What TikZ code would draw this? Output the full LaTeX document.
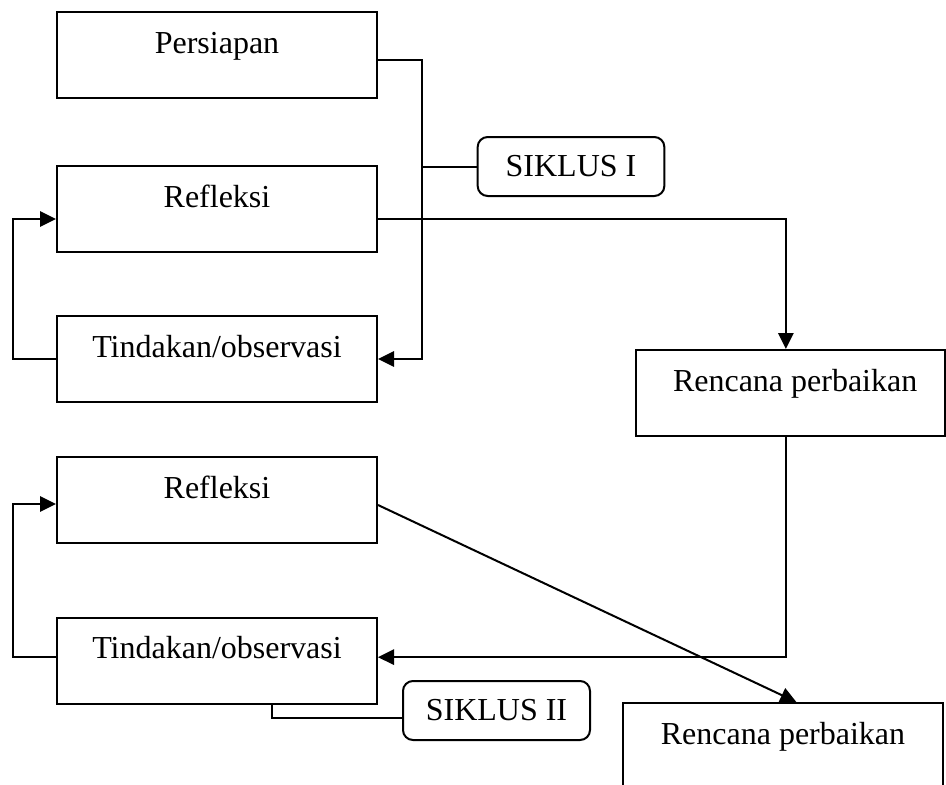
\documentclass[tikz,border=0pt]{standalone}
\usepackage{fontspec}
\setmainfont{Liberation Serif}
\usetikzlibrary{arrows.meta}

\tikzset{
  kotak/.style={draw, line width=1.5pt, minimum width=240pt, inner xsep=0pt, inner ysep=0pt,
    text height=30.75pt, text depth=33.75pt, font=\fontsize{24}{28}\selectfont},
  siklus/.style={draw, line width=1.5pt, rounded corners=7.5pt, minimum width=140pt,
    minimum height=44.25pt, inner sep=0pt, font=\fontsize{24}{28}\selectfont},
  garis/.style={line width=1.5pt},
  panah/.style={-{Triangle[length=12pt,width=11.5pt]}, line width=1.5pt},
}

\begin{document}
\begin{tikzpicture}[x=0.75pt, y=-0.75pt]
        \useasboundingbox (0,0) rectangle (946,785);
        \clip (0,0) rectangle (946,785);

        % siklus I
        \node[kotak] (pers) at (217, 55) {Persiapan};
        \node[kotak] (ref1) at (217, 209) {Refleksi};
        \node[kotak] (tin1) at (217, 359) {Tindakan/observasi};
        \node[kotak, minimum width=231.75pt] (ren1) at (790.5, 393) {\hspace*{7pt}Rencana perbaikan};
        \node[siklus] (sik1) at (571, 166.5) {SIKLUS I};

        % siklus II
        \node[kotak] (ref2) at (217, 500) {Refleksi};
        \node[kotak] (tin2) at (217, 660.5) {Tindakan/observasi};
        \node[kotak] (ren2) at (783, 746) {Rencana perbaikan};
        \node[siklus, minimum width=140.25pt] (sik2) at (496.5, 710.5) {SIKLUS II};

        \coordinate (jalur) at (422, 0);
        \coordinate (kiri) at (13, 0);

        % persiapan line
        \draw[panah] ([yshift=-3.75pt]pers.east) -| (jalur |- tin1.east) -- (tin1.east);
        \draw[garis] (sik1.west) -- (sik1.west -| jalur);

        % refleksi line
        \draw[panah] ([yshift=-7.5pt]ref1.east) -| ([xshift=-3.5pt]ren1.north);
        \draw[panah] (tin1.west) -- (tin1.west -| kiri) |- ([yshift=-7.5pt]ref1.west);

        % perbaikan line
        \draw[panah] ([xshift=-3.5pt]ren1.south) |- ([yshift=2.5pt]tin2.east);
        \draw[panah] ([yshift=2.5pt]tin2.west) -- ([yshift=2.5pt]tin2.west -| kiri) |- ([yshift=-3pt]ref2.west);
        \draw[panah] ([yshift=-3.75pt]ref2.east) -- ([xshift=10pt]ren2.north);
        \draw[garis] ([xshift=41.25pt]tin2.south) |- ([yshift=-5.5pt]sik2.west);
    \end{tikzpicture}
\end{document}
